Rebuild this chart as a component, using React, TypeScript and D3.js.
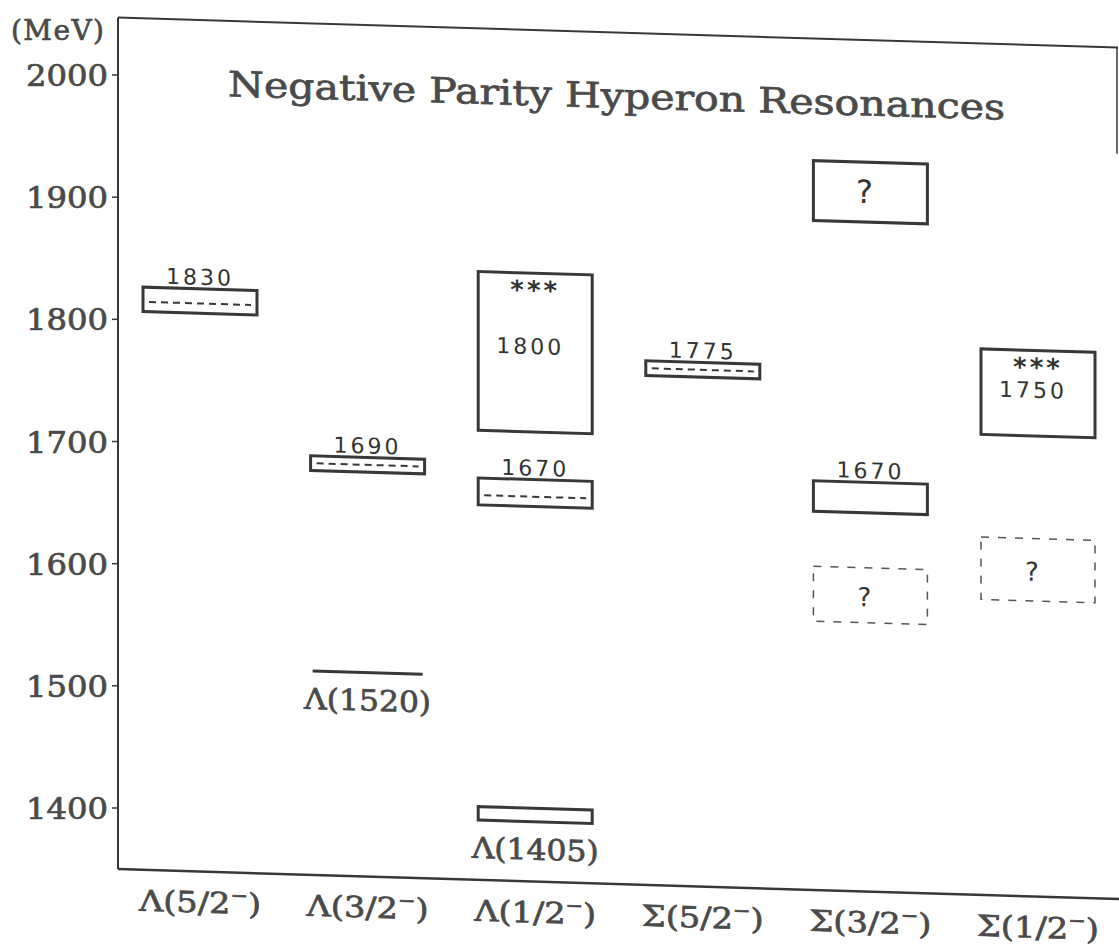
import React from 'react';
import * as d3 from 'd3';

const categories = ['Λ(5/2⁻)', 'Λ(3/2⁻)', 'Λ(1/2⁻)', 'Σ(5/2⁻)', 'Σ(3/2⁻)', 'Σ(1/2⁻)'];
const yTicks = [1400, 1500, 1600, 1700, 1800, 1900, 2000];

// narrow states, dashed line = central mass
const narrowStates = [
  { cat: 'Λ(5/2⁻)', lo: 1807, hi: 1827, mid: 1815, label: '1830' },
  { cat: 'Λ(3/2⁻)', lo: 1681, hi: 1693, mid: 1687, label: '1690' },
  { cat: 'Λ(1/2⁻)', lo: 1657, hi: 1679, mid: 1665, label: '1670' },
  { cat: 'Σ(5/2⁻)', lo: 1767, hi: 1779, mid: 1773, label: '1775' },
  { cat: 'Σ(3/2⁻)', lo: 1660, hi: 1685, mid: null, label: '1670' },
];

const broadStates = [
  { cat: 'Λ(1/2⁻)', lo: 1718, hi: 1848, label: '1800', stars: '***' },
  { cat: 'Σ(1/2⁻)', lo: 1727, hi: 1797, label: '1750', stars: '***' },
];

// expected but not (well) seen
const missingStates = [
  { cat: 'Σ(3/2⁻)', lo: 1898, hi: 1947, seen: true },
  { cat: 'Σ(3/2⁻)', lo: 1570, hi: 1615, seen: false },
  { cat: 'Σ(1/2⁻)', lo: 1592, hi: 1643, seen: false },
];

const groundStates = [
  { cat: 'Λ(3/2⁻)', lo: 1517, hi: 1517, name: 'Λ(1520)' },
  { cat: 'Λ(1/2⁻)', lo: 1399, hi: 1410, name: 'Λ(1405)' },
];

const W = 1119;
const H = 949;
const X0 = 118; // left axis
const K = 0.03; // the scan is sheared a little
const BOX_W = 114;
const INK = '#383838';
const TEXT = '#4a4a4a';
const SERIF = "'DejaVu Serif', serif";
const HAND = "'DejaVu Sans', sans-serif";

export default function App() {
  const x = d3.scalePoint<string>().domain(categories).range([200, 1038]);
  const y = d3.scaleLinear().domain([1400, 2000]).range([808, 75]);

  const yTop = y(2047);
  const yBot = y(1350);
  const cx = (c: string) => x(c) || 0;

  const catLabel = (c: string) => {
    const parts = c.split('⁻');
    return (
      <>
        {parts[0]}
        <tspan dy={-12} fontSize={18}>−</tspan>
        <tspan dy={12}>{parts[1]}</tspan>
      </>
    );
  };

  // printed text: regular serif, slightly thickened like the scan
  const printed = { fontFamily: SERIF, fill: TEXT, stroke: TEXT, strokeWidth: 0.7 };

  return (
    <svg width={W} height={H} style={{ position: 'absolute', left: 0, top: 0, background: '#fff' }}>
      {/* y ticks (not sheared) */}
      <text x={11} y={40} fontSize={28} textLength={93} {...printed}>
        (MeV)
      </text>
      {yTicks.map((t) => (
        <g key={t}>
          <line x1={X0 - 6} x2={X0} y1={y(t)} y2={y(t)} stroke={INK} strokeWidth={1.5} />
          <text
            x={108}
            y={y(t) + 11}
            textAnchor="end"
            fontSize={29}
            textLength={82}
            lengthAdjust="spacingAndGlyphs"
            {...printed}
          >
            {t}
          </text>
        </g>
      ))}

      <g transform={`matrix(1, ${K}, 0, 1, 0, ${-K * X0})`}>
        {/* frame */}
        <line x1={X0} x2={X0} y1={yTop} y2={yBot} stroke={INK} strokeWidth={2} />
        <line x1={X0} x2={1118} y1={yTop} y2={yTop} stroke={INK} strokeWidth={2} />
        <line x1={X0} x2={W} y1={yBot} y2={yBot} stroke={INK} strokeWidth={2.5} />
        <line x1={1117} x2={1117} y1={yTop} y2={y(1960)} stroke={INK} strokeWidth={1.5} />

        <text
          x={228}
          y={93}
          fontSize={35}
          textLength={777}
          lengthAdjust="spacingAndGlyphs"
          {...printed}
        >
          Negative Parity Hyperon Resonances
        </text>

        {/* narrow states */}
        {narrowStates.map((d, i) => (
          <g key={'n' + i}>
            <rect
              x={cx(d.cat) - BOX_W / 2}
              y={y(d.hi)}
              width={BOX_W}
              height={y(d.lo) - y(d.hi)}
              fill="none"
              stroke={INK}
              strokeWidth={3}
            />
            {d.mid !== null && (
              <line
                x1={cx(d.cat) - BOX_W / 2 + 6}
                x2={cx(d.cat) + BOX_W / 2 - 6}
                y1={y(d.mid)}
                y2={y(d.mid)}
                stroke={INK}
                strokeWidth={2}
                strokeDasharray="7 5"
              />
            )}
            <text
              x={cx(d.cat)}
              y={y(d.hi) - 4}
              textAnchor="middle"
              fontFamily={HAND}
              fontSize={22}
              letterSpacing={3}
              fill="#333"
            >
              {d.label}
            </text>
          </g>
        ))}

        {/* broad states */}
        {broadStates.map((d, i) => {
          const top = y(d.hi);
          const h = y(d.lo) - top;
          return (
            <g key={'b' + i}>
              <rect x={cx(d.cat) - BOX_W / 2} y={top} width={BOX_W} height={h} fill="none" stroke={INK} strokeWidth={3} />
              <text x={cx(d.cat)} y={top + 26} textAnchor="middle" fontFamily={HAND} fontWeight="bold" fontSize={26} letterSpacing={3} fill="#333">
                {d.stars}
              </text>
              <text
                x={cx(d.cat) - 5}
                y={top + h * 0.46 + 8}
                textAnchor="middle"
                fontFamily={HAND}
                fontSize={22}
                letterSpacing={3}
                fill="#333"
              >
                {d.label}
              </text>
            </g>
          );
        })}

        {/* missing states */}
        {missingStates.map((d, i) => {
          const top = y(d.hi);
          const h = y(d.lo) - top;
          return (
            <g key={'m' + i}>
              <rect
                x={cx(d.cat) - BOX_W / 2}
                y={top}
                width={BOX_W}
                height={h}
                fill="none"
                stroke={d.seen ? INK : '#555'}
                strokeWidth={d.seen ? 3 : 1.5}
                strokeDasharray={d.seen ? undefined : '8 9'}
              />
              <text
                x={cx(d.cat) - 6}
                y={top + h / 2 + 11}
                textAnchor="middle"
                fontFamily={HAND}
                fontSize={d.seen ? 32 : 26}
                fill="#333"
              >
                ?
              </text>
            </g>
          );
        })}

        {/* ground states */}
        {groundStates.map((d, i) => (
          <g key={'g' + i}>
            {d.hi === d.lo ? (
              <line
                x1={cx(d.cat) - BOX_W / 2 + 2}
                x2={cx(d.cat) + BOX_W / 2 - 2}
                y1={y(d.lo)}
                y2={y(d.lo)}
                stroke={INK}
                strokeWidth={3}
              />
            ) : (
              <rect
                x={cx(d.cat) - BOX_W / 2}
                y={y(d.hi)}
                width={BOX_W}
                height={y(d.lo) - y(d.hi)}
                fill="none"
                stroke={INK}
                strokeWidth={3}
              />
            )}
            <text
              x={cx(d.cat)}
              y={y(d.lo) + 38}
              textAnchor="middle"
              fontSize={29}
              textLength={127}
              lengthAdjust="spacingAndGlyphs"
              {...printed}
            >
              {d.name}
            </text>
          </g>
        ))}

        {/* categories */}
        {categories.map((c) => (
          <text
            key={c}
            x={cx(c)}
            y={yBot + 41}
            textAnchor="middle"
            fontSize={29}
            textLength={122}
            lengthAdjust="spacingAndGlyphs"
            {...printed}
          >
            {catLabel(c)}
          </text>
        ))}
      </g>
    </svg>
  );
}
